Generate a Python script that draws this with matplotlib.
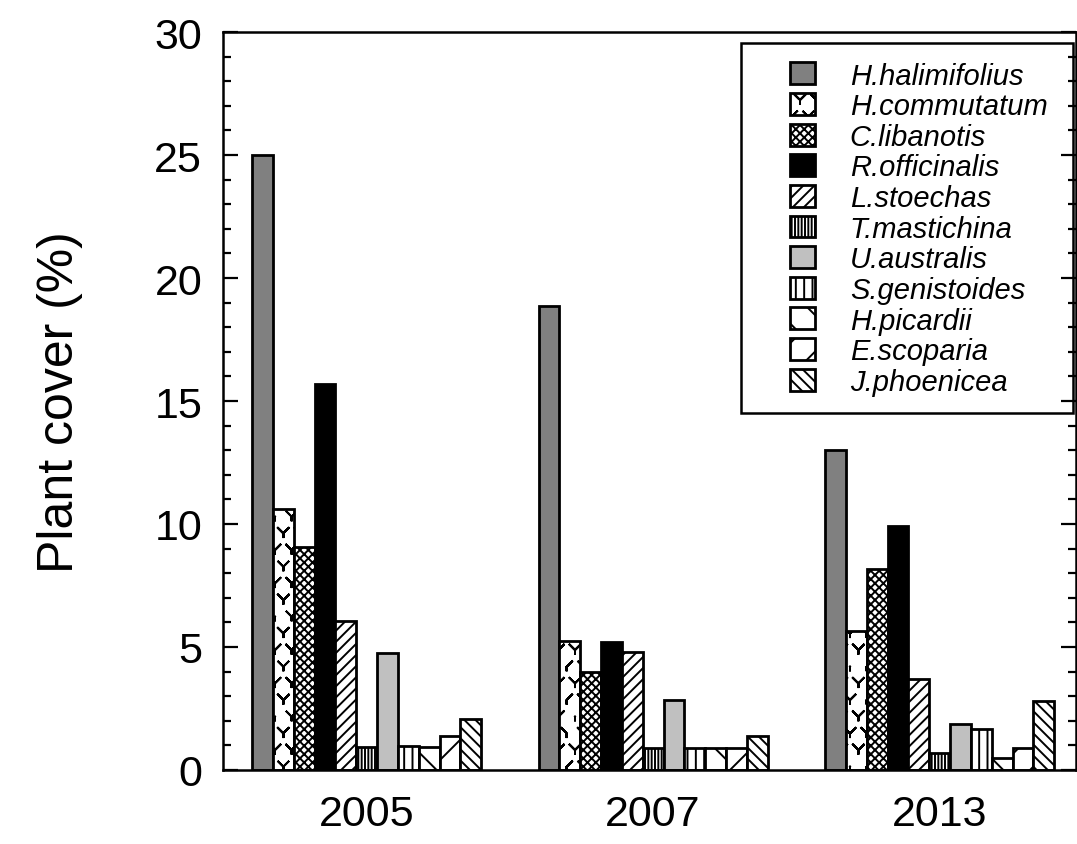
import numpy as np
import matplotlib
matplotlib.use("Agg")
import matplotlib.pyplot as plt
import matplotlib.hatch as mhatch
from matplotlib.path import Path
from matplotlib.patches import Rectangle

# ---------------------------------------------------------------- data
years = ["2005", "2007", "2013"]
species = ["H.halimifolius", "H.commutatum", "C.libanotis", "R.officinalis",
           "L.stoechas", "T.mastichina", "U.australis", "S.genistoides",
           "H.picardii", "E.scoparia", "J.phoenicea"]

cover_2005 = [25.0, 10.6, 9.05, 15.7, 6.05, 0.93, 4.76, 0.98, 0.93, 1.38, 2.07]
cover_2007 = [18.87, 5.24, 3.98, 5.2, 4.8, 0.89, 2.85, 0.89, 0.89, 0.89, 1.38]
cover_2013 = [13.0, 5.65, 8.17, 9.92, 3.7, 0.69, 1.87, 1.67, 0.49, 0.89, 2.8]

# ---------------------------------------------------------------- styles
fills = ["#808080", "white", "white", "black", "white", "white",
         "#c0c0c0", "white", "white", "white", "white"]
hatches = [None, "*", "xxxx", None, "///", "|||||", None, "||", "\\", "/",
           "\\\\\\"]


class YShapes(mhatch.Shapes):
    """Staggered rows of small 'Y' marks, used for the '*' hatch."""
    filled = False
    size = 0.45

    def __init__(self, hatch, density):
        self.num_rows = hatch.count("*") * 6
        # zero-area outline: every arm is drawn out and back again
        self.shape_vertices = np.array([
            [0.0, -0.5], [0.0, 0.0], [-0.45, 0.45], [0.0, 0.0],
            [0.45, 0.45], [0.0, 0.0], [0.0, -0.5]])
        self.shape_codes = np.array([Path.MOVETO] + [Path.LINETO] * 6,
                                    dtype=Path.code_type)
        super().__init__(hatch, density)


mhatch._hatch_types = [YShapes if t is mhatch.Stars else t
                       for t in mhatch._hatch_types]

plt.rcParams["font.family"] = ["Liberation Sans", "DejaVu Sans"]
plt.rcParams["hatch.linewidth"] = 1.4
plt.rcParams["hatch.color"] = "black"

fig = plt.figure(figsize=(10.77, 8.45), dpi=100)
ax = fig.add_axes([0.2071, 0.0876, 0.7920, 0.8733])

values = np.array([cover_2005, cover_2007, cover_2013])  # years x species
n_sp = len(species)
group_w = 0.8
bar_w = group_w / n_sp
x = np.arange(len(years))

for i, name in enumerate(species):
    offs = (i - (n_sp - 1) / 2) * bar_w
    ax.bar(x + offs, values[:, i], width=bar_w, color=fills[i],
           edgecolor="black", linewidth=2.0, hatch=hatches[i], label=name,
           zorder=2)

ax.set_xlim(-0.501, 2.476)
ax.set_ylim(0, 30)
ax.set_yticks(np.arange(0, 31, 5))
ax.set_yticks(np.arange(0, 31, 1), minor=True)
ax.set_xticks(x)
ax.set_xticklabels(years)

for s in ax.spines.values():
    s.set_linewidth(1.8)

ax.tick_params(axis="y", which="both", direction="in", left=True, right=True,
               width=1.6, labelsize=31, pad=15)
ax.tick_params(axis="y", which="major", length=10.8)
ax.tick_params(axis="y", which="minor", length=5.8)
ax.tick_params(axis="x", which="both", length=0, labelsize=31, pad=17)

ax.set_ylabel("Plant cover (%)", fontsize=36)
ax.yaxis.set_label_coords(-0.164, 0.5)

leg = ax.legend(loc="upper left", bbox_to_anchor=(0.6647, 0.960),
                frameon=False, borderpad=0, borderaxespad=0,
                prop=dict(family="Liberation Sans", style="italic", size=21),
                handlelength=0.85, handleheight=0.78, handletextpad=1.2,
                labelspacing=0.09)
ax.add_patch(Rectangle((0.6073, 0.4837), 0.9965 - 0.6073, 0.9851 - 0.4837,
                       transform=ax.transAxes, fill=False, edgecolor="black",
                       linewidth=1.8, zorder=3))

fig.savefig("out.png", dpi=100)
